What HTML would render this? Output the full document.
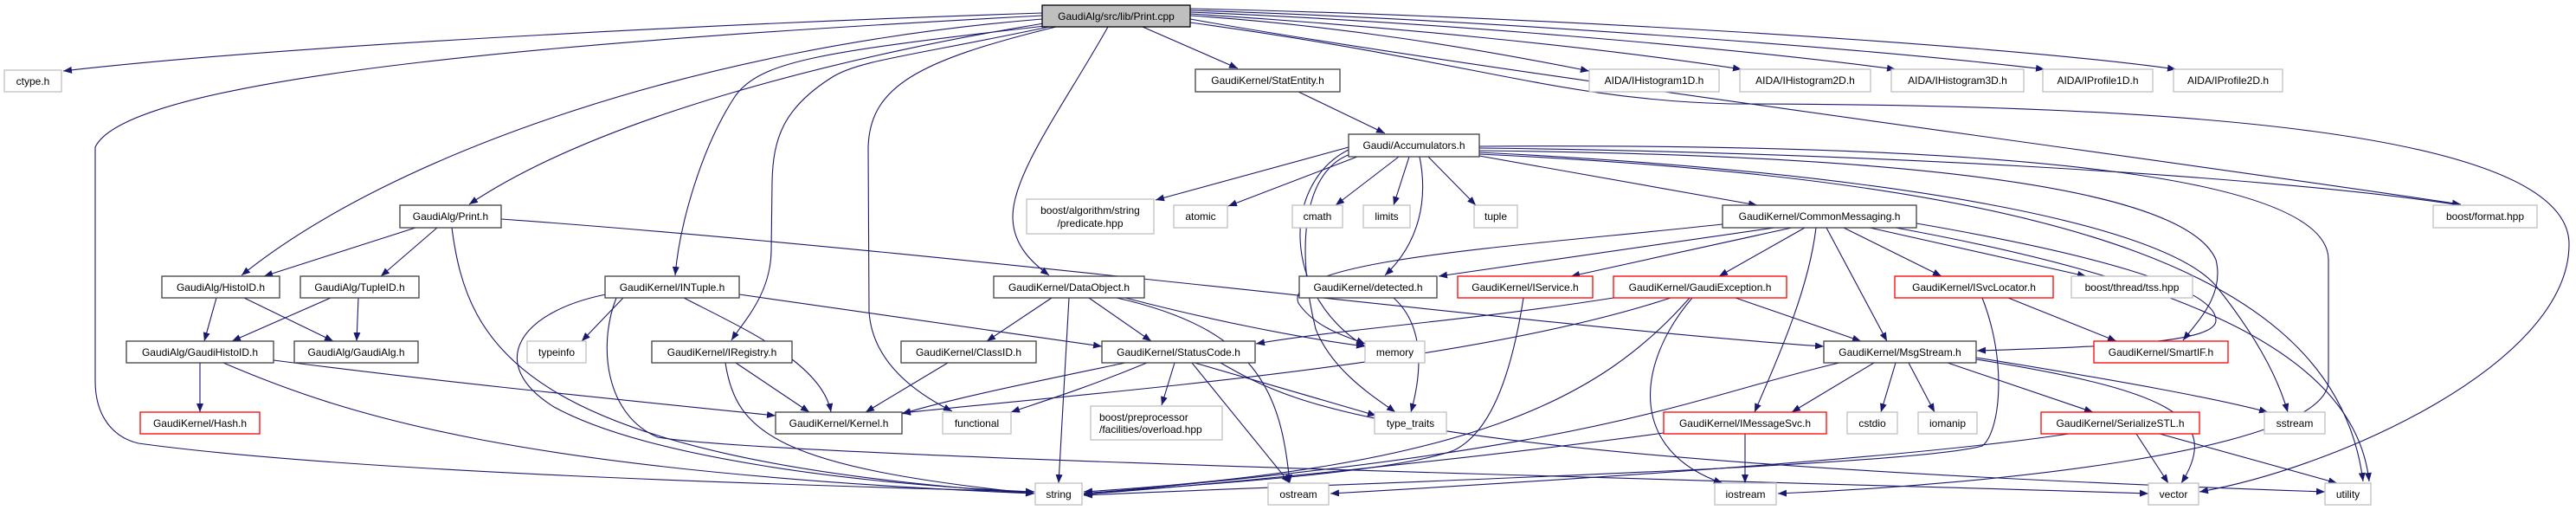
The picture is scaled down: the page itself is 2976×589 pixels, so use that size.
<!DOCTYPE html>
<html><head><meta charset="utf-8"><style>
html,body{margin:0;padding:0;background:#fff;}
svg{display:block;}
text{font-family:"Liberation Sans",sans-serif;font-size:12px;fill:#000;}
.e{fill:none;stroke:#191970;stroke-width:1.1;marker-end:url(#a);}
.n{fill:#fff;stroke:#404040;stroke-width:1.3;}
.g{fill:#fff;stroke:#bfbfbf;stroke-width:1.3;}
.r{fill:#fff;stroke:#ff0000;stroke-width:1.3;}
</style></head><body>
<svg width="2976" height="589" viewBox="0 0 2976 589" xmlns="http://www.w3.org/2000/svg">
<defs><marker id="a" markerUnits="userSpaceOnUse" markerWidth="11" markerHeight="8" refX="10" refY="4" orient="auto"><path d="M0,0 L10,4 L0,8 z" fill="#191970"/></marker></defs>
<g>
<path class="e" d="M1204,15 C900,25 350,50 73,82"/>
<path class="e" d="M1204,18 C700,45 150,85 110,170 L110,440 C110,480 130,505 160,512 C400,545 900,560 1195,568"/>
<path class="e" d="M1204,22 C800,55 450,180 279,318"/>
<path class="e" d="M1206,27 C1000,60 700,130 542,236"/>
<path class="e" d="M1207,30 C950,60 880,70 850,110 C810,170 785,260 780,318"/>
<path class="e" d="M1212,31 C1050,65 990,70 960,90 C905,125 893,160 892,210 L891,290 C890,340 860,370 845,393"/>
<path class="e" d="M1220,31 C1060,70 1005,100 1003,170 L1004,360 C1008,420 1060,455 1100,475"/>
<path class="e" d="M1280,31 C1230,120 1170,200 1170,250 C1170,285 1195,305 1212,318"/>
<path class="e" d="M1320,31 L1430,79"/>
<path class="e" d="M1375,18 C1550,30 1700,55 1836,82"/>
<path class="e" d="M1375,16 C1600,30 1850,55 2012,80"/>
<path class="e" d="M1375,14 C1650,25 2000,55 2190,80"/>
<path class="e" d="M1375,12 C1700,22 2150,55 2362,80"/>
<path class="e" d="M1375,10 C1750,18 2300,50 2514,80"/>
<path class="e" d="M1375,22 C1700,80 2400,170 2843,236"/>
<path class="e" d="M1375,26 C1700,70 1800,115 2000,120 C2500,120 2968,150 2968,282 C2968,420 2700,540 2541,568"/>
<path class="e" d="M1500,106 L1600,154"/>
<path class="e" d="M1558,170 L1335,231"/>
<path class="e" d="M1568,181 L1419,238"/>
<path class="e" d="M1616,181 L1543,237"/>
<path class="e" d="M1628,181 L1610,237"/>
<path class="e" d="M1650,181 L1705,237"/>
<path class="e" d="M1640,181 C1650,230 1640,280 1600,318"/>
<path class="e" d="M1709,180 L2030,237"/>
<path class="e" d="M1709,171 C2100,175 2600,200 2843,237"/>
<path class="e" d="M1709,174 C2300,180 2530,230 2560,300 C2570,340 2540,370 2522,393"/>
<path class="e" d="M1709,176 C2200,200 2500,260 2560,330 C2600,380 2630,430 2643,476"/>
<path class="e" d="M1709,169 C2300,165 2690,200 2690,300 L2690,440 C2690,520 2300,560 2054,570"/>
<path class="e" d="M1709,178 C2400,210 2700,320 2730,556"/>
<path class="e" d="M1560,178 C1500,200 1500,300 1520,380 C1540,430 1590,460 1612,476"/>
<path class="e" d="M1560,172 C1480,210 1480,340 1577,400"/>
<path class="e" d="M1990,259 C1750,285 1480,300 1500,350 C1520,380 1560,390 1577,397"/>
<path class="e" d="M2050,263 L1662,319"/>
<path class="e" d="M2070,263 L1815,319"/>
<path class="e" d="M2085,263 L1986,319"/>
<path class="e" d="M2098,263 C2090,330 2060,400 2027,476"/>
<path class="e" d="M2110,263 L2180,394"/>
<path class="e" d="M2130,263 L2243,319"/>
<path class="e" d="M2160,263 L2410,319"/>
<path class="e" d="M2214,258 C2400,290 2560,330 2560,370 C2560,395 2450,400 2284,405"/>
<path class="e" d="M2190,263 C2500,320 2720,400 2737,556"/>
<path class="e" d="M1864,344 C1700,370 1550,380 1451,397"/>
<path class="e" d="M1930,344 C1700,420 1300,450 1042,477"/>
<path class="e" d="M1952,344 C1850,460 1700,540 1252,568"/>
<path class="e" d="M1955,344 C1890,420 1880,520 1990,558"/>
<path class="e" d="M2005,344 L2150,394"/>
<path class="e" d="M1760,344 C1745,440 1720,500 1680,520 C1600,550 1300,565 1252,570"/>
<path class="e" d="M1610,344 C1650,380 1640,440 1630,476"/>
<path class="e" d="M2320,344 L2445,394"/>
<path class="e" d="M2290,344 C2320,420 2310,500 2290,515 C2200,540 1500,560 1252,572"/>
<path class="e" d="M2165,419 L2070,476"/>
<path class="e" d="M2190,419 L2173,476"/>
<path class="e" d="M2205,419 L2235,476"/>
<path class="e" d="M2250,419 L2418,476"/>
<path class="e" d="M2283,413 C2450,440 2560,460 2620,476"/>
<path class="e" d="M2283,415 C2500,450 2570,480 2520,558"/>
<path class="e" d="M2125,419 C1950,460 1850,520 1252,570"/>
<path class="e" d="M2016,501 L2016,558"/>
<path class="e" d="M1922,500 C1700,530 1400,560 1252,571"/>
<path class="e" d="M2468,501 L2505,558"/>
<path class="e" d="M2495,501 L2700,558"/>
<path class="e" d="M2390,501 C2200,530 1800,555 1537,570"/>
<path class="e" d="M480,263 L305,319"/>
<path class="e" d="M505,263 L440,319"/>
<path class="e" d="M522,263 C540,400 600,530 1195,570"/>
<path class="e" d="M579,253 C1100,290 1800,380 2107,400"/>
<path class="e" d="M250,344 L236,394"/>
<path class="e" d="M282,344 L385,394"/>
<path class="e" d="M382,344 L268,394"/>
<path class="e" d="M414,344 L412,394"/>
<path class="e" d="M231,419 L231,476"/>
<path class="e" d="M316,416 C500,440 700,460 896,480"/>
<path class="e" d="M258,419 C400,480 600,545 1195,570"/>
<path class="e" d="M720,344 L672,394"/>
<path class="e" d="M790,344 C860,380 950,420 960,476"/>
<path class="e" d="M854,340 L1273,400"/>
<path class="e" d="M700,340 C600,360 560,420 640,470 C750,530 1000,560 1195,568"/>
<path class="e" d="M712,344 C690,400 700,480 760,505 C900,530 2200,560 2482,570"/>
<path class="e" d="M850,419 L935,476"/>
<path class="e" d="M838,419 C850,500 900,540 1195,570"/>
<path class="e" d="M1215,344 L1140,394"/>
<path class="e" d="M1258,344 L1330,394"/>
<path class="e" d="M1235,344 L1223,558"/>
<path class="e" d="M1300,344 C1400,370 1500,390 1577,400"/>
<path class="e" d="M1290,344 C1450,380 1480,450 1490,558"/>
<path class="e" d="M1095,419 L1000,476"/>
<path class="e" d="M1300,419 C1200,440 1100,460 1042,478"/>
<path class="e" d="M1325,419 C1250,450 1200,465 1168,476"/>
<path class="e" d="M1357,419 L1342,468"/>
<path class="e" d="M1377,419 L1490,558"/>
<path class="e" d="M1380,419 L1590,480"/>
<path class="e" d="M1410,419 C1500,470 1600,530 2686,568"/>
</g>
<g>
<rect x="1204" y="6" width="171" height="25" fill="#bfbfbf" stroke="#000" stroke-width="1.3"/><text x="1289.5" y="19" text-anchor="middle" dominant-baseline="central">GaudiAlg/src/lib/Print.cpp</text>
<rect class="g" x="5" y="81" width="66" height="25"/><text x="38" y="94" text-anchor="middle" dominant-baseline="central">ctype.h</text>
<rect class="n" x="1381" y="80" width="167" height="26"/><text x="1464.5" y="93" text-anchor="middle" dominant-baseline="central">GaudiKernel/StatEntity.h</text>
<rect class="g" x="1836" y="80" width="150" height="26"/><text x="1911" y="93" text-anchor="middle" dominant-baseline="central">AIDA/IHistogram1D.h</text>
<rect class="g" x="2010" y="80" width="151" height="26"/><text x="2085.5" y="93" text-anchor="middle" dominant-baseline="central">AIDA/IHistogram2D.h</text>
<rect class="g" x="2185" y="80" width="153" height="26"/><text x="2261.5" y="93" text-anchor="middle" dominant-baseline="central">AIDA/IHistogram3D.h</text>
<rect class="g" x="2360" y="80" width="127" height="26"/><text x="2423.5" y="93" text-anchor="middle" dominant-baseline="central">AIDA/IProfile1D.h</text>
<rect class="g" x="2511" y="80" width="126" height="26"/><text x="2574" y="93" text-anchor="middle" dominant-baseline="central">AIDA/IProfile2D.h</text>
<rect class="n" x="1558" y="155" width="151" height="26"/><text x="1633.5" y="168" text-anchor="middle" dominant-baseline="central">Gaudi/Accumulators.h</text>
<rect class="n" x="462" y="237" width="117" height="26"/><text x="520.5" y="250" text-anchor="middle" dominant-baseline="central">GaudiAlg/Print.h</text>
<rect class="g" x="1186" y="230" width="147" height="40"/><text x="1259.5" y="243" text-anchor="middle" dominant-baseline="central">boost/algorithm/string</text><text x="1259.5" y="258" text-anchor="middle" dominant-baseline="central">/predicate.hpp</text>
<rect class="g" x="1356" y="237" width="62" height="26"/><text x="1387" y="250" text-anchor="middle" dominant-baseline="central">atomic</text>
<rect class="g" x="1493" y="237" width="58" height="26"/><text x="1522" y="250" text-anchor="middle" dominant-baseline="central">cmath</text>
<rect class="g" x="1575" y="237" width="54" height="26"/><text x="1602" y="250" text-anchor="middle" dominant-baseline="central">limits</text>
<rect class="g" x="1703" y="237" width="50" height="26"/><text x="1728" y="250" text-anchor="middle" dominant-baseline="central">tuple</text>
<rect class="n" x="1990" y="237" width="224" height="26"/><text x="2102" y="250" text-anchor="middle" dominant-baseline="central">GaudiKernel/CommonMessaging.h</text>
<rect class="g" x="2811" y="237" width="120" height="26"/><text x="2871" y="250" text-anchor="middle" dominant-baseline="central">boost/format.hpp</text>
<rect class="n" x="187" y="319" width="136" height="25"/><text x="255" y="332" text-anchor="middle" dominant-baseline="central">GaudiAlg/HistoID.h</text>
<rect class="n" x="347" y="319" width="137" height="25"/><text x="415.5" y="332" text-anchor="middle" dominant-baseline="central">GaudiAlg/TupleID.h</text>
<rect class="n" x="699" y="319" width="155" height="25"/><text x="776.5" y="332" text-anchor="middle" dominant-baseline="central">GaudiKernel/INTuple.h</text>
<rect class="n" x="1148" y="319" width="174" height="25"/><text x="1235" y="332" text-anchor="middle" dominant-baseline="central">GaudiKernel/DataObject.h</text>
<rect class="n" x="1501" y="319" width="159" height="25"/><text x="1580.5" y="332" text-anchor="middle" dominant-baseline="central">GaudiKernel/detected.h</text>
<rect class="r" x="1684" y="319" width="156" height="25"/><text x="1762" y="332" text-anchor="middle" dominant-baseline="central">GaudiKernel/IService.h</text>
<rect class="r" x="1864" y="319" width="200" height="25"/><text x="1964" y="332" text-anchor="middle" dominant-baseline="central">GaudiKernel/GaudiException.h</text>
<rect class="r" x="2189" y="319" width="183" height="25"/><text x="2280.5" y="332" text-anchor="middle" dominant-baseline="central">GaudiKernel/ISvcLocator.h</text>
<rect class="g" x="2393" y="319" width="140" height="25"/><text x="2463" y="332" text-anchor="middle" dominant-baseline="central">boost/thread/tss.hpp</text>
<rect class="n" x="146" y="394" width="170" height="25"/><text x="231" y="407" text-anchor="middle" dominant-baseline="central">GaudiAlg/GaudiHistoID.h</text>
<rect class="n" x="340" y="394" width="143" height="25"/><text x="411.5" y="407" text-anchor="middle" dominant-baseline="central">GaudiAlg/GaudiAlg.h</text>
<rect class="g" x="609" y="394" width="68" height="25"/><text x="643" y="407" text-anchor="middle" dominant-baseline="central">typeinfo</text>
<rect class="n" x="753" y="394" width="162" height="25"/><text x="834" y="407" text-anchor="middle" dominant-baseline="central">GaudiKernel/IRegistry.h</text>
<rect class="n" x="1041" y="394" width="156" height="25"/><text x="1119" y="407" text-anchor="middle" dominant-baseline="central">GaudiKernel/ClassID.h</text>
<rect class="n" x="1273" y="394" width="177" height="25"/><text x="1361.5" y="407" text-anchor="middle" dominant-baseline="central">GaudiKernel/StatusCode.h</text>
<rect class="g" x="1577" y="394" width="69" height="25"/><text x="1611.5" y="407" text-anchor="middle" dominant-baseline="central">memory</text>
<rect class="n" x="2107" y="394" width="176" height="25"/><text x="2195" y="407" text-anchor="middle" dominant-baseline="central">GaudiKernel/MsgStream.h</text>
<rect class="r" x="2419" y="394" width="155" height="25"/><text x="2496.5" y="407" text-anchor="middle" dominant-baseline="central">GaudiKernel/SmartIF.h</text>
<rect class="r" x="162" y="476" width="138" height="25"/><text x="231" y="489" text-anchor="middle" dominant-baseline="central">GaudiKernel/Hash.h</text>
<rect class="n" x="896" y="476" width="146" height="25"/><text x="969" y="489" text-anchor="middle" dominant-baseline="central">GaudiKernel/Kernel.h</text>
<rect class="g" x="1089" y="476" width="79" height="25"/><text x="1128.5" y="489" text-anchor="middle" dominant-baseline="central">functional</text>
<rect class="g" x="1260" y="469" width="152" height="39"/><text x="1270" y="482" dominant-baseline="central">boost/preprocessor</text><text x="1270" y="496" dominant-baseline="central">/facilities/overload.hpp</text>
<rect class="g" x="1588" y="476" width="83" height="25"/><text x="1629.5" y="489" text-anchor="middle" dominant-baseline="central">type_traits</text>
<rect class="r" x="1922" y="476" width="188" height="25"/><text x="2016" y="489" text-anchor="middle" dominant-baseline="central">GaudiKernel/IMessageSvc.h</text>
<rect class="g" x="2134" y="476" width="58" height="25"/><text x="2163" y="489" text-anchor="middle" dominant-baseline="central">cstdio</text>
<rect class="g" x="2216" y="476" width="68" height="25"/><text x="2250" y="489" text-anchor="middle" dominant-baseline="central">iomanip</text>
<rect class="r" x="2358" y="476" width="183" height="25"/><text x="2449.5" y="489" text-anchor="middle" dominant-baseline="central">GaudiKernel/SerializeSTL.h</text>
<rect class="g" x="2616" y="476" width="70" height="25"/><text x="2651" y="489" text-anchor="middle" dominant-baseline="central">sstream</text>
<rect class="g" x="1196" y="558" width="54" height="25"/><text x="1223" y="571" text-anchor="middle" dominant-baseline="central">string</text>
<rect class="g" x="1465" y="558" width="70" height="25"/><text x="1500" y="571" text-anchor="middle" dominant-baseline="central">ostream</text>
<rect class="g" x="1981" y="558" width="71" height="25"/><text x="2016.5" y="571" text-anchor="middle" dominant-baseline="central">iostream</text>
<rect class="g" x="2482" y="558" width="58" height="25"/><text x="2511" y="571" text-anchor="middle" dominant-baseline="central">vector</text>
<rect class="g" x="2686" y="558" width="53" height="25"/><text x="2712.5" y="571" text-anchor="middle" dominant-baseline="central">utility</text>
</g>
</svg>
</body></html>
